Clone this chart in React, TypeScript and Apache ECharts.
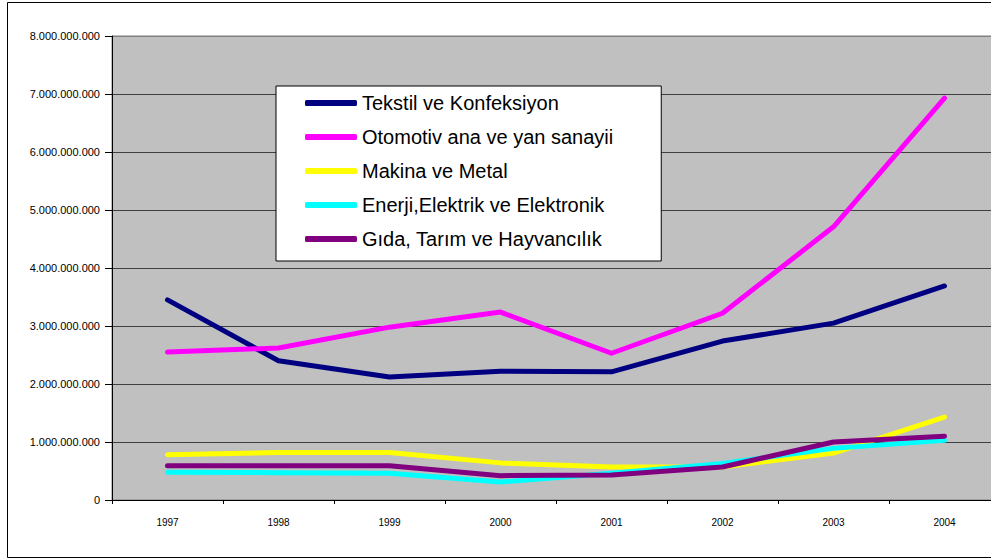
import React, { useEffect, useRef } from "react";
import * as echarts from "echarts";

const years = ["1997", "1998", "1999", "2000", "2001", "2002", "2003", "2004"];
const seriesNames = [
  "Tekstil ve Konfeksiyon",
  "Otomotiv ana ve yan sanayii",
  "Makina ve Metal",
  "Enerji,Elektrik ve Elektronik",
  "Gıda, Tarım ve Hayvancılık",
];
const tekstil = [3450000000, 2400000000, 2120000000, 2220000000, 2210000000, 2740000000, 3050000000, 3690000000];
const otomotiv = [2550000000, 2620000000, 2980000000, 3240000000, 2530000000, 3220000000, 4710000000, 6930000000];
const makina = [780000000, 820000000, 820000000, 640000000, 570000000, 570000000, 810000000, 1430000000];
const enerji = [480000000, 470000000, 460000000, 310000000, 460000000, 630000000, 890000000, 1030000000];
const gida = [590000000, 590000000, 590000000, 420000000, 430000000, 570000000, 1000000000, 1100000000];
const colors = ["#000080", "#FF00FF", "#FFFF00", "#00FFFF", "#800080"];

const fmt = (v: number) => {
  const s = Math.round(v).toString();
  return s.replace(/\B(?=(\d{3})+(?!\d))/g, ".");
};

export default function App() {
  const ref = useRef<HTMLDivElement>(null);
  useEffect(() => {
    if (!ref.current) return;
    const chart = echarts.init(ref.current, undefined, { renderer: "svg" });
    const data = [tekstil, otomotiv, makina, enerji, gida];
    chart.setOption({
      animation: false,
      backgroundColor: "#ffffff",
      textStyle: { fontFamily: "Liberation Sans, Arial, sans-serif" },
      graphic: [
        {
          type: "rect",
          shape: { x: 7.5, y: 2.5, width: 1100, height: 555 },
          style: { fill: "none", stroke: "#000000", lineWidth: 1 },
          z: 100,
        },
      ],
      grid: {
        left: 112,
        top: 36,
        width: 888,
        height: 464,
        show: true,
        backgroundColor: "#C0C0C0",
        borderColor: "#808080",
        borderWidth: 1,
      },
      legend: {
        orient: "vertical",
        left: 276,
        top: 86,
        backgroundColor: "#ffffff",
        borderColor: "#000000",
        borderWidth: 1,
        padding: [7, 48, 12, 29],
        itemGap: 14,
        itemWidth: 52,
        itemHeight: 6,
        icon: "roundRect",
        data: seriesNames,
        textStyle: {
          fontSize: 20,
          color: "#000000",
          fontFamily: "Liberation Sans, Arial, sans-serif",
          padding: [0, 0, 0, 0],
        },
      },
      xAxis: {
        type: "category",
        data: years,
        boundaryGap: true,
        axisLine: { lineStyle: { color: "#000000", width: 1 } },
        axisTick: { show: true, length: 4, lineStyle: { color: "#000000" } },
        axisLabel: { fontSize: 10, color: "#000000", margin: 17 },
        splitLine: { show: false },
      },
      yAxis: {
        type: "value",
        min: 0,
        max: 8000000000,
        interval: 1000000000,
        axisLine: { show: true, lineStyle: { color: "#000000", width: 1 } },
        axisTick: { show: true, length: 7, lineStyle: { color: "#000000" } },
        axisLabel: { fontSize: 11, color: "#000000", margin: 12, formatter: (v: number) => fmt(v) },
        splitLine: {
          show: true,
          lineStyle: {
            color: ["#000000", "#404040", "#404040", "#404040", "#404040", "#404040", "#404040", "#404040", "#808080"],
            width: 1,
          },
        },
      },
      series: seriesNames.map((name, i) => ({
        name,
        type: "line",
        data: data[i],
        symbol: "none",
        lineStyle: { color: colors[i], width: 5, cap: "round", join: "round" },
        itemStyle: { color: colors[i] },
      })),
    });
    return () => chart.dispose();
  }, []);
  return (
    <div
      style={{
        position: "fixed",
        left: 0,
        top: 0,
        width: 991,
        height: 560,
        overflow: "hidden",
        background: "#ffffff",
      }}
    >
      <div ref={ref} style={{ width: 1020, height: 560 }} />
    </div>
  );
}
